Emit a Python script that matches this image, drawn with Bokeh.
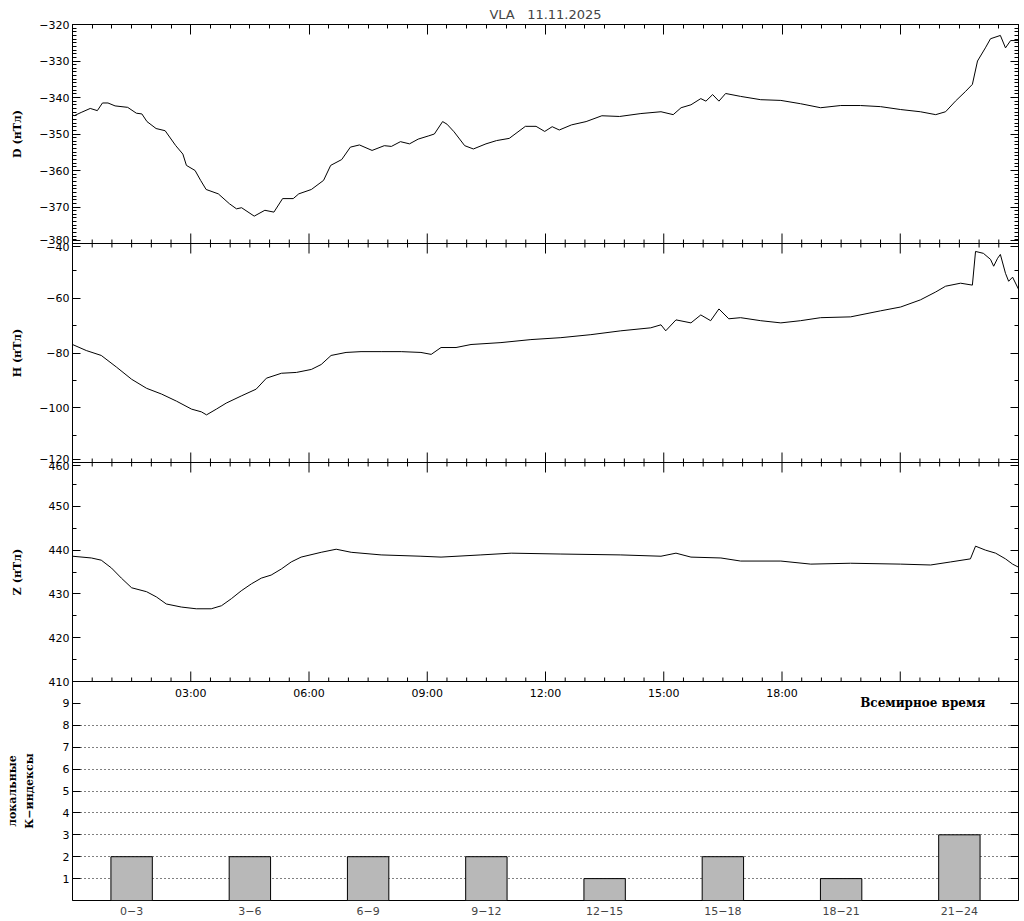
import math
from bokeh.plotting import figure
from bokeh.layouts import row
from bokeh.models import Range1d, LinearAxis, FixedTicker, Span, Grid
from bokeh.core.properties import value
from bokeh.embed import file_html
from bokeh.resources import INLINE

TITLE = "VLA\u00a0\u00a0\u00a011.11.2025"

# ---------------- data (hours UT, nT) ----------------
d_time = [0.0, 0.04, 0.22, 0.45, 0.63, 0.76, 0.90, 1.08, 1.40, 1.62, 1.76, 1.89, 2.12, 2.35, 2.62,
          2.80, 2.89, 3.11, 3.25, 3.39, 3.70, 3.98, 4.16, 4.29, 4.61, 4.88, 5.11, 5.33, 5.60, 5.74,
          6.06, 6.37, 6.55, 6.83, 7.05, 7.28, 7.60, 7.91, 8.09, 8.32, 8.55, 8.77, 9.04, 9.18, 9.39,
          9.50, 9.68, 9.95, 10.17, 10.49, 10.76, 11.08, 11.49, 11.76, 11.98, 12.17, 12.35, 12.66,
          13.03, 13.43, 13.88, 14.42, 14.93, 15.24, 15.44, 15.69, 15.94, 16.07, 16.24, 16.40,
          16.57, 16.95, 17.46, 17.97, 18.47, 18.98, 19.49, 19.99, 20.50, 21.01, 21.51, 21.90,
          22.15, 22.40, 22.66, 22.83, 22.96, 23.16, 23.29, 23.54, 23.67, 23.80, 24.0]
d_val = [-344.7, -345.0, -344.1, -343.0, -343.6, -341.5, -341.5, -342.3, -342.7, -344.3, -344.5,
         -346.6, -348.5, -349.1, -353.2, -355.5, -358.6, -360.0, -362.7, -365.2, -366.4, -369.1,
         -370.5, -370.2, -372.5, -370.9, -371.4, -367.7, -367.7, -366.4, -365.2, -362.7, -358.6,
         -357.0, -353.6, -353.0, -354.5, -353.2, -353.4, -352.1, -352.7, -351.4, -350.5, -350.0,
         -346.6, -347.3, -349.4, -353.2, -354.1, -352.7, -351.8, -351.2, -347.9, -347.9, -349.3,
         -348.0, -348.9, -347.5, -346.6, -345.0, -345.2, -344.4, -343.9, -344.7, -342.8, -342.0,
         -340.3, -341.0, -339.2, -341.0, -338.9, -339.7, -340.6, -340.8, -341.7, -342.8, -342.2,
         -342.2, -342.5, -343.3, -343.9, -344.7, -343.9, -341.0, -338.3, -336.4, -330.0, -326.4,
         -323.9, -323.0, -326.4, -324.4, -324.4]

h_time = [0.0, 0.35, 0.73, 1.12, 1.50, 1.88, 2.26, 2.64, 3.02, 3.27, 3.40, 3.65, 3.90, 4.28, 4.66,
          4.92, 5.30, 5.68, 6.06, 6.31, 6.56, 6.94, 7.32, 7.83, 8.34, 8.84, 9.10, 9.35, 9.73, 10.11,
          10.87, 11.63, 12.39, 13.15, 13.91, 14.67, 14.93, 15.05, 15.31, 15.69, 15.94, 16.19, 16.40,
          16.65, 16.95, 17.46, 17.97, 18.47, 18.98, 19.74, 20.50, 21.01, 21.51, 21.90, 22.15, 22.53,
          22.83, 22.91, 23.11, 23.29, 23.37, 23.47, 23.54, 23.67, 23.75, 23.85, 24.0]
h_val = [-76.9, -79.1, -80.9, -85.2, -89.6, -92.9, -95.0, -97.6, -100.5, -101.5, -102.6, -100.5,
         -98.3, -95.7, -93.2, -89.2, -87.4, -87.1, -86.0, -84.2, -80.9, -79.8, -79.5, -79.5, -79.5,
         -79.8, -80.5, -78.0, -78.0, -76.9, -76.2, -75.1, -74.4, -73.3, -71.9, -70.8, -69.7, -71.9,
         -67.9, -69.0, -66.1, -68.2, -63.9, -67.5, -67.1, -68.2, -69.0, -68.2, -67.1, -66.8, -64.6,
         -63.2, -60.6, -57.7, -55.6, -54.5, -55.2, -42.9, -43.6, -45.8, -48.3, -45.4, -44.0, -50.9,
         -53.8, -52.3, -56.7]

z_time = [0.0, 0.48, 0.73, 0.99, 1.24, 1.50, 1.88, 2.13, 2.38, 2.76, 3.14, 3.52, 3.78, 4.03, 4.28,
          4.54, 4.79, 5.04, 5.30, 5.55, 5.80, 6.31, 6.69, 7.07, 7.83, 8.84, 9.35, 10.36, 11.13, 12.39,
          13.91, 14.93, 15.31, 15.69, 16.45, 16.95, 17.97, 18.73, 19.74, 21.01, 21.77, 22.28, 22.78,
          22.91, 23.16, 23.42, 23.67, 23.85, 24.0]
z_val = [438.6, 438.2, 437.7, 435.9, 433.6, 431.4, 430.5, 429.3, 427.7, 427.0, 426.6, 426.6, 427.3,
         428.9, 430.7, 432.3, 433.6, 434.3, 435.7, 437.3, 438.4, 439.5, 440.2, 439.5, 438.9, 438.6,
         438.4, 438.9, 439.3, 439.1, 438.9, 438.6, 439.3, 438.4, 438.2, 437.5, 437.5, 436.8, 437.0,
         436.8, 436.6, 437.3, 438.0, 440.9, 440.0, 439.3, 438.0, 436.8, 436.1]

k_start = [0, 3, 6, 9, 12, 15, 18, 21]
k_labels = ["0\u22123", "3\u22126", "6\u22129", "9\u221212", "12\u221215", "15\u221218", "18\u221221", "21\u221224"]
k_values = [2, 2, 2, 2, 1, 2, 1, 3]

time_ticks = [3, 6, 9, 12, 15, 18]
time_labels = ["03:00", "06:00", "09:00", "12:00", "15:00", "18:00"]
time_major = [3, 6, 9, 12, 15, 18, 21]
ut_label = "Всемирное время"

d_ticks = [-380, -370, -360, -350, -340, -330, -320]
h_ticks = [-120, -100, -80, -60, -40]
z_ticks = [410, 420, 430, 440, 450, 460]
k_ticks = [1, 2, 3, 4, 5, 6, 7, 8, 9]
k_grid = [1, 2, 3, 4, 5, 6, 7, 8]

# name, lo, hi, panel index (0 = bottom), major ticks, minor step
panels = [("D", -380, -320, 3, d_ticks, 1),
          ("H", -120, -40, 2, h_ticks, 10),
          ("Z", 410, 460, 1, z_ticks, 5),
          ("K", 0, 10, 0, k_ticks, None)]
axis_titles = ["D (нТл)", "H (нТл)", "Z (нТл)", "локальные", "К\u2212индексы"]
axis_title_panel = [3, 2, 1, 0, 0]
axis_title_col = [0, 0, 0, 1, 2]

FONT = "DejaVu Sans"
SERIF = "DejaVu Serif"
TOP, BOT, H = 24, 21, 921
LEFTW = 36

# ---------------- main figure ----------------
p = figure(width=1022 - LEFTW, height=H, x_range=Range1d(0, 24), y_range=Range1d(0, 4),
           output_backend="svg", toolbar_location=None, x_axis_type=None, y_axis_type=None,
           min_border_left=33, min_border_right=4, min_border_top=TOP, min_border_bottom=BOT)
p.outline_line_color = "black"
p.outline_line_alpha = 1.0
p.outline_line_width = 1
p.background_fill_color = "white"
p.border_fill_color = "white"

p.title.text = TITLE
p.title.align = "center"
p.title.text_font = FONT
p.title.text_font_size = "13px"
p.title.text_font_style = "normal"
p.title.standoff = 6

def pos(v, lo, hi, idx):
    return idx + (v - lo) / (hi - lo)

extra = {}
major_pos, minor_pos, overrides = [], [], {}
EPS = 0.014
for name, lo, hi, idx, ticks, mstep in panels:
    span = hi - lo
    extra[name] = Range1d(lo - idx * span, hi + (3 - idx) * span)
    for t in ticks:
        y = pos(t, lo, hi, idx)
        if t == lo and idx > 1:
            y += EPS
        if t == hi and idx < 3:
            y -= EPS
        major_pos.append(y)
        overrides[y] = str(t).replace("-", "\u2212")
    if mstep:
        v = lo + mstep
        while v < hi:
            if v not in ticks:
                minor_pos.append(pos(v, lo, hi, idx))
            v += mstep
p.extra_y_ranges = extra

left = LinearAxis(ticker=FixedTicker(ticks=major_pos, minor_ticks=minor_pos),
                  major_label_overrides=overrides,
                  major_tick_in=8, major_tick_out=0, minor_tick_in=4, minor_tick_out=0,
                  major_label_standoff=3, major_label_text_font=FONT,
                  major_label_text_font_size="11px", major_label_text_color="black",
                  axis_line_color="black", major_tick_line_color="black", minor_tick_line_color="black")
p.add_layout(left, "left")

right = LinearAxis(ticker=FixedTicker(ticks=major_pos, minor_ticks=minor_pos),
                   major_tick_in=8, major_tick_out=0, minor_tick_in=4, minor_tick_out=0,
                   major_label_standoff=0, major_label_text_font_size="0px",
                   major_label_text_color=None,
                   axis_line_color="black", major_tick_line_color="black", minor_tick_line_color="black")
p.add_layout(right, "right")

time_minor = [h / 2 for h in range(1, 48) if (h / 2) % 3 != 0]
top = LinearAxis(ticker=FixedTicker(ticks=time_major, minor_ticks=time_minor),
                 major_tick_in=10, major_tick_out=0, minor_tick_in=4, minor_tick_out=0,
                 major_label_standoff=0, major_label_text_font_size="0px",
                 major_label_text_color=None,
                 axis_line_color="black", major_tick_line_color="black", minor_tick_line_color="black")
p.add_layout(top, "above")

k_centers = [s + 1.5 for s in k_start]
bottom = LinearAxis(ticker=FixedTicker(ticks=k_centers, minor_ticks=[]),
                    major_label_overrides={c: l for c, l in zip(k_centers, k_labels)},
                    major_tick_in=0, major_tick_out=0, minor_tick_in=0, minor_tick_out=0,
                    major_label_standoff=6, major_label_text_font=FONT,
                    major_label_text_font_size="11px", axis_line_color=None)
p.add_layout(bottom, "below")

# panel separators
for b in [1, 2, 3]:
    p.add_layout(Span(location=b, dimension="width", line_color="black", line_width=1))

# time tick marks on internal panel boundaries
PX = (H - TOP - BOT) / 4.0
MAJ, MIN = 10 / PX, 4 / PX
x0, y0, x1, y1 = [], [], [], []
for b, both in [(3, True), (2, True), (1, False)]:
    for t in time_major + time_minor:
        L = MAJ if t in time_major else MIN
        x0.append(t); x1.append(t)
        y0.append(b - L if both else b)
        y1.append(b + L)
p.segment(x0=x0, y0=y0, x1=x1, y1=y1, line_color="black", line_width=1)

# K-index dotted grid
p.add_layout(Grid(dimension=1, ticker=FixedTicker(ticks=[pos(k, 0, 10, 0) for k in k_grid]),
                  grid_line_color="black", grid_line_dash="1 3", grid_line_width=1))

# data
p.line(d_time, d_val, y_range_name="D", line_color="black", line_width=1)
p.line(h_time, h_val, y_range_name="H", line_color="black", line_width=1)
p.line(z_time, z_val, y_range_name="Z", line_color="black", line_width=1)
p.vbar(x=k_centers, width=1.05, top=k_values, bottom=0, y_range_name="K",
       fill_color="#b8b8b8", line_color="black", line_width=1)

# time labels inside K panel
p.text(x=time_ticks, y=[1] * len(time_ticks), text=time_labels, y_offset=12,
       text_align="center", text_baseline="middle", text_font=value(FONT),
       text_font_size="11px", text_color="black")
p.text(x=[21.57], y=[9.0], text=[ut_label], y_range_name="K",
       text_align="center", text_baseline="middle", text_font=value(SERIF),
       text_font_size="12px", text_font_style="bold", text_color="black")

# ---------------- left strip with the axis titles ----------------
q = figure(width=LEFTW, height=H, x_range=Range1d(0, LEFTW), y_range=p.y_range,
           output_backend="svg", toolbar_location=None, x_axis_type=None, y_axis_type=None,
           min_border_left=0, min_border_right=0, min_border_top=TOP, min_border_bottom=BOT)
q.outline_line_color = None
q.background_fill_color = "white"
q.border_fill_color = "white"

COLX = [17, 12, 29]
q.text(x=[COLX[c] for c in axis_title_col],
       y=[i + 0.5 for i in axis_title_panel],
       text=axis_titles, angle=[math.pi / 2] * len(axis_titles),
       text_align="center", text_baseline="middle", text_font=value(SERIF),
       text_font_size="11px", text_font_style="bold", text_color="black")

layout = row(q, p)
open("out.html", "w").write(file_html(layout, INLINE))
